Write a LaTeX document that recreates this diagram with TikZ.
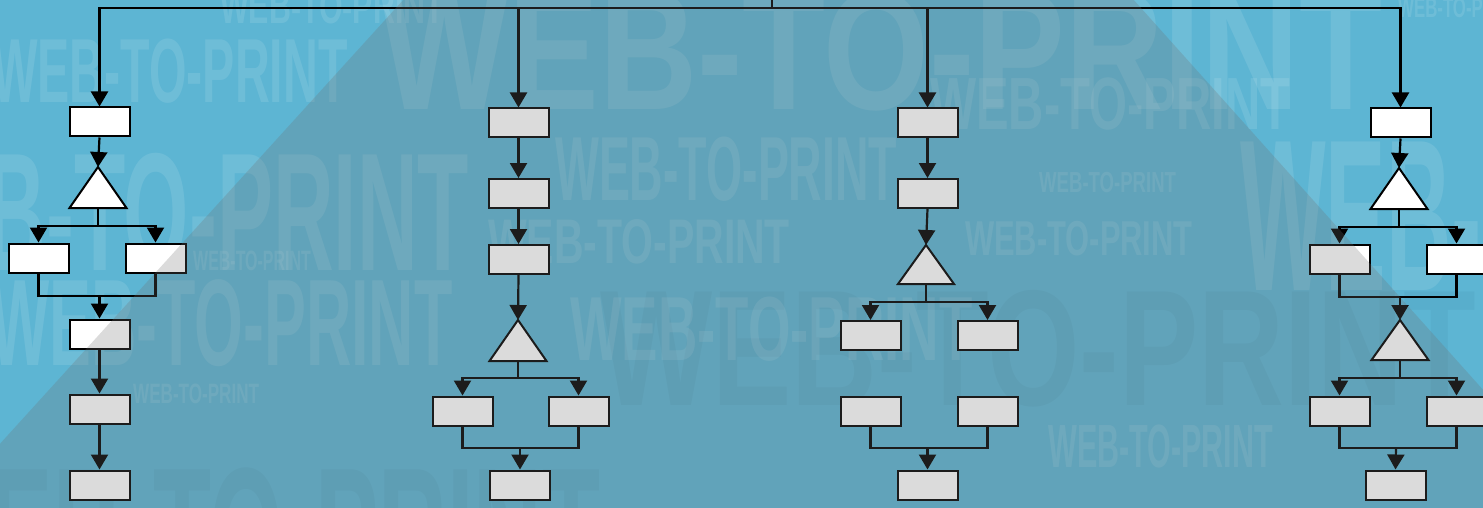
\documentclass[tikz,border=0pt]{standalone}
\usepackage{fontspec}
\newfontfamily\wmfont{Liberation Sans}
\usetikzlibrary{arrows.meta}
\definecolor{bgblue}{RGB}{93,181,211}
\definecolor{ovgrey}{RGB}{112,112,112}
\definecolor{wmdark}{RGB}{40,95,125}
\tikzset{
  wmL/.style={anchor=base west, inner sep=0pt, text=white, text opacity=0.11},
  wmD/.style={anchor=base west, inner sep=0pt, text=wmdark, text opacity=0.08},
  box/.style={draw=black, fill=white, line width=2pt, minimum width=60pt, minimum height=29pt, inner sep=0pt},
  tri/.style={draw=black, fill=white, line width=2pt, line join=miter},
  link/.style={draw=black, line width=2.2pt},
  arr/.style={link, -{Triangle[width=17pt,length=15pt]}}
}
\newcommand\wmtext[2]{\fontsize{#1}{#1}\selectfont\scalebox{#2}[1]{WEB-TO-PRINT}}
\begin{document}
\begin{tikzpicture}[x=1pt,y=-1pt]
\useasboundingbox (0,0) rectangle (1483,508);
\begin{scope}
\clip (0,0) rectangle (1483,508);
\fill[bgblue] (-2,-2) rectangle (1485,510);
% watermark texts
\begin{scope}[font=\wmfont\bfseries]
\node[wmL] (w1) at (-8,103) {\wmtext{91}{0.53}};
\node[wmL] (w2) at (220,24) {\wmtext{49}{0.62}};
\node[wmL] (w3) at (-150,270) {\wmtext{168}{0.50}};
\node[wmL] (w4) at (-10,365) {\wmtext{123}{0.51}};
\node[wmL] (w5) at (193,270) {\wmtext{28}{0.57}};
\node[wmL] (w6) at (133,403) {\wmtext{28}{0.61}};
\node[wmD] (w7) at (-100,600) {\wmtext{190}{0.50}};
\node[wmL] (w8) at (380,110) {\wmtext{170}{0.80}};
\node[wmL] (w9) at (555,200) {\wmtext{91}{0.51}};
\node[wmL] (w10) at (930,130) {\wmtext{74}{0.66}};
\node[wmL] (w11) at (1039,193) {\wmtext{29}{0.64}};
\node[wmL] (w12) at (965,255) {\wmtext{49}{0.63}};
\node[wmL] (w13) at (488,263) {\wmtext{63}{0.65}};
\node[wmD] (w14) at (600,405) {\wmtext{165}{0.72}};
\node[wmL] (w15) at (570,360) {\wmtext{91}{0.60}};
\node[wmL] (w16) at (1048,467) {\wmtext{61}{0.50}};
\node[wmL] (w17) at (1240,290) {\wmtext{216}{0.42}};
\node[wmL] (w18) at (1398,18) {\wmtext{28}{0.60}};
\end{scope}

% ---------- flowchart ----------
\coordinate (root) at (772,-6);
\coordinate (bus) at (772,8);
% column 1
\node[box] (a1) at (99.5,122) {};
\coordinate (t1a) at (98,167); \coordinate (t1b) at (98,208);
\draw[tri] (69.5,208) -- (t1a) -- (126.5,208) -- cycle;
\node[box] (a2L) at (38.5,258) {};
\node[box] (a2R) at (155.5,258) {};
\node[box] (a3) at (99.5,334) {};
\node[box] (a4) at (99.5,409) {};
\node[box] (a5) at (99.5,485) {};
\coordinate (s1) at (98,226);
\coordinate (j1) at (99.5,296);
% column 2
\node[box] (b1) at (518.5,123) {};
\node[box] (b2) at (518.5,193.5) {};
\node[box] (b3) at (518.5,259.5) {};
\coordinate (t2a) at (518,320); \coordinate (t2b) at (518,361);
\draw[tri] (489.5,361) -- (t2a) -- (546.5,361) -- cycle;
\node[box] (b4L) at (462.5,411) {};
\node[box] (b4R) at (578.5,411) {};
\node[box] (b5) at (520,485) {};
\coordinate (s2) at (518,378);
\coordinate (j2) at (520,448);
% column 3
\node[box] (c1) at (927.5,123) {};
\node[box] (c2) at (927.5,193.5) {};
\coordinate (t3a) at (926,245); \coordinate (t3b) at (926,284);
\draw[tri] (898,284) -- (t3a) -- (954,284) -- cycle;
\node[box] (c3L) at (870.5,335.5) {};
\node[box] (c3R) at (987.5,335.5) {};
\node[box] (c4L) at (870.5,411) {};
\node[box] (c4R) at (987.5,411) {};
\node[box] (c5) at (927.5,485) {};
\coordinate (s3) at (926,302);
\coordinate (j3) at (927.5,448);
% column 4
\node[box] (d1) at (1400.5,123) {};
\coordinate (t4a) at (1399,168); \coordinate (t4b) at (1399,209);
\draw[tri] (1370.5,209) -- (t4a) -- (1427.5,209) -- cycle;
\node[box] (d2L) at (1339.5,259) {};
\node[box] (d2R) at (1456.5,259) {};
\coordinate (t5a) at (1400,320); \coordinate (t5b) at (1400,360);
\draw[tri] (1371.5,360) -- (t5a) -- (1428.5,360) -- cycle;
\node[box] (d3L) at (1339.5,411) {};
\node[box] (d3R) at (1456.5,411) {};
\node[box] (d4) at (1395.5,485) {};
\coordinate (s4) at (1399,227);
\coordinate (j4) at (1400,297);
\coordinate (s5) at (1400,378);
\coordinate (j5) at (1396,448);

% connectors
\draw[link] (root) -- (bus);
\draw[arr] (bus) -| (a1.north);
\draw[arr] (bus) -| (b1.north);
\draw[arr] (bus) -| (c1.north);
\draw[arr] (bus) -| (d1.north);
% col 1
\draw[arr] (a1.south) -- (t1a);
\draw[link] (t1b) -- (s1);
\draw[arr] (s1) -| (a2L.north);
\draw[arr] (s1) -| (a2R.north);
\draw[link] (a2L.south) |- (a2R.south |- j1) -- (a2R.south);
\draw[arr] (j1) -- (a3.north);
\draw[arr] (a3.south) -- (a4.north);
\draw[arr] (a4.south) -- (a5.north);
% col 2
\draw[arr] (b1.south) -- (b2.north);
\draw[arr] (b2.south) -- (b3.north);
\draw[arr] (b3.south) -- (t2a);
\draw[link] (t2b) -- (s2);
\draw[arr] (s2) -| (b4L.north);
\draw[arr] (s2) -| (b4R.north);
\draw[link] (b4L.south) |- (b4R.south |- j2) -- (b4R.south);
\draw[arr] (j2) -- (b5.north);
% col 3
\draw[arr] (c1.south) -- (c2.north);
\draw[arr] (c2.south) -- (t3a);
\draw[link] (t3b) -- (s3);
\draw[arr] (s3) -| (c3L.north);
\draw[arr] (s3) -| (c3R.north);
\draw[link] (c4L.south) |- (c4R.south |- j3) -- (c4R.south);
\draw[arr] (j3) -- (c5.north);
% col 4
\draw[arr] (d1.south) -- (t4a);
\draw[link] (t4b) -- (s4);
\draw[arr] (s4) -| (d2L.north);
\draw[arr] (s4) -| (d2R.north);
\draw[link] (d2L.south) |- (d2R.south |- j4) -- (d2R.south);
\draw[arr] (j4) -- (t5a);
\draw[link] (t5b) -- (s5);
\draw[arr] (s5) -| (d3L.north);
\draw[arr] (s5) -| (d3R.north);
\draw[link] (d3L.south) |- (d3R.south |- j5) -- (d3R.south);
\draw[arr] (j5) -- (d4.north);

% darker translucent overlay
\fill[ovgrey, fill opacity=0.25] (405,-2) -- (1132,-2) -- (1485,392) -- (1485,510) -- (-2,510) -- (-2,446) -- cycle;
\end{scope}
\end{tikzpicture}
\end{document}
